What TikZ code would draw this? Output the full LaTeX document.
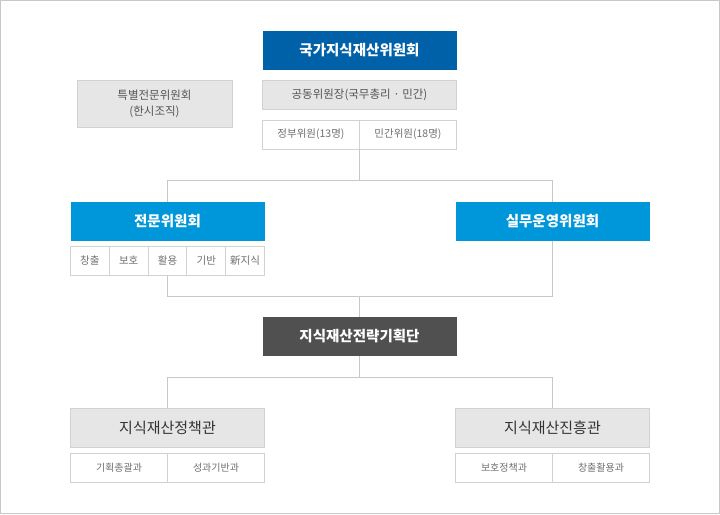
\documentclass[tikz,border=0pt]{standalone}
\usepackage{fontspec}
\setmainfont{Noto Sans CJK KR}
\definecolor{dblue}{HTML}{0061A9}
\definecolor{lblue}{HTML}{0096DA}
\definecolor{dgray}{HTML}{505050}
\definecolor{lgray}{HTML}{E6E6E6}
\definecolor{bgray}{HTML}{D2D2D2}
\definecolor{lcol}{HTML}{C8C8C8}
\definecolor{tgray}{HTML}{555555}
\definecolor{sgray}{HTML}{707070}
\tikzset{
  box/.style={inner sep=0pt, outer sep=0pt, minimum width=194pt, minimum height=39pt, align=center},
  headblue/.style={box, fill=dblue, text=white, font=\fontsize{14.5}{16}\selectfont\bfseries},
  subblue/.style={box, fill=lblue, text=white, font=\fontsize{14.5}{16}\selectfont\bfseries},
  headdark/.style={box, fill=dgray, text=white, font=\fontsize{14.5}{16}\selectfont\bfseries},
  headgray/.style={box, fill=lgray, draw=bgray, line width=1pt, text=black!80, font=\fontsize{15}{16}\selectfont},
  graybox/.style={box, fill=lgray, draw=bgray, line width=1pt, text=tgray, font=\fontsize{11.5}{15.5}\selectfont},
  cell/.style={box, fill=white, draw=bgray, line width=1pt, minimum height=29pt, text=sgray, font=\fontsize{10.5}{13}\selectfont},
  conn/.style={draw=lcol, line width=1pt}
}
\begin{document}
\begin{tikzpicture}[x=1pt,y=-1pt]
\useasboundingbox (0,0) rectangle (720,514);
\draw[lcol, line width=1pt] (0.5,0.5) rectangle (719.5,513.5);
% top
\node[headblue] (top) at (359.5,50) {국가지식재산위원회};
\node[graybox, minimum height=29pt] (chair) at (359.5,95) {공동위원장(국무총리 · 민간)};
\node[cell, minimum width=97pt] (gov) at (311,134.5) {정부위원(13명)};
\node[cell, minimum width=97pt] (civ) at (408,134.5) {민간위원(18명)};
\node[graybox, minimum width=155pt, minimum height=47pt] (special) at (154.5,104) {특별전문위원회\\(한시조직)};
% second level
\node[subblue] (jeonmun) at (167.5,221) {전문위원회};
\node[subblue] (silmu) at (552.5,221) {실무운영위원회};
\foreach \t [count=\i] in {창출,보호,활용,기반,新지식}{
  \node[cell, minimum width=38.8pt] (c\i) at ({70.5+38.8*(\i-0.5)},260.5) {\t};
}
% strategy
\node[headdark] (strat) at (359.5,336.5) {지식재산전략기획단};
% bottom
\node[headgray] (policy) at (167.5,427.5) {지식재산정책관};
\node[headgray] (promo) at (552.5,427.5) {지식재산진흥관};
\node[cell, minimum width=97pt, font=\fontsize{10}{12}\selectfont] (p1) at (119,467.5) {기획총괄과};
\node[cell, minimum width=97pt, font=\fontsize{10}{12}\selectfont] (p2) at (216,467.5) {성과기반과};
\node[cell, minimum width=97pt, font=\fontsize{10}{12}\selectfont] (q1) at (504,467.5) {보호정책과};
\node[cell, minimum width=97pt, font=\fontsize{10}{12}\selectfont] (q2) at (601,467.5) {창출활용과};
% connectors
\coordinate (j1) at (359.5,180.5);
\draw[conn] (gov.south east) -- (j1);
\draw[conn] (jeonmun.north) |- (j1) -| (silmu.north);
\coordinate (j2) at (359.5,296.5);
\draw[conn] (c3.south) |- (j2) -| (silmu.south);
\draw[conn] (j2) -- (strat.north);
\coordinate (j3) at (359.5,377.5);
\draw[conn] (strat.south) -- (j3);
\draw[conn] (policy.north) |- (j3) -| (promo.north);
\end{tikzpicture}
\end{document}
